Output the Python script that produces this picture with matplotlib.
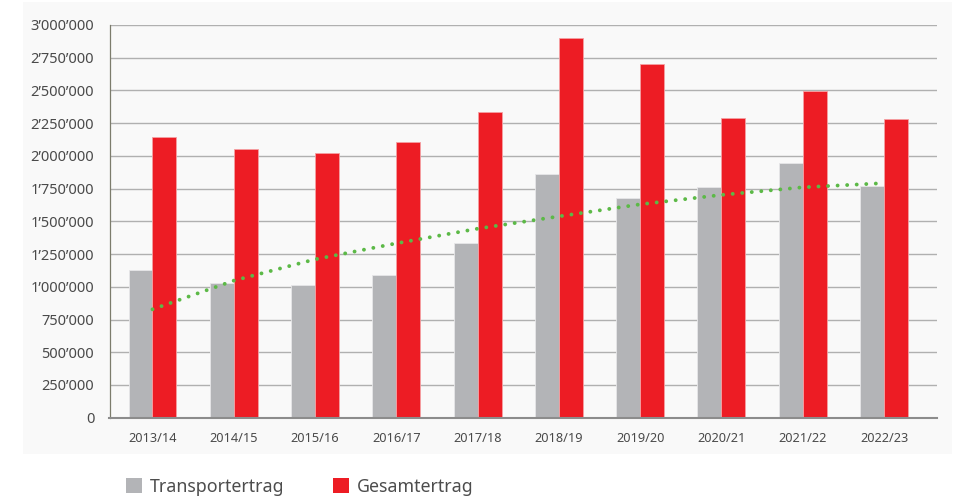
import matplotlib.pyplot as plt
from matplotlib.patches import Patch, Rectangle
import numpy as np

years = ['2013/14', '2014/15', '2015/16', '2016/17', '2017/18',
         '2018/19', '2019/20', '2020/21', '2021/22', '2022/23']
transportertrag = [1128000, 1027000, 1017000, 1093000, 1332000,
                   1859000, 1676000, 1760000, 1946000, 1770000]
gesamtertrag = [2147000, 2055000, 2019000, 2108000, 2335000,
                2900000, 2702000, 2290000, 2496000, 2284000]
# dotted trend at each group centre
trend = [828000, 1047000, 1210000, 1332000, 1444000,
         1538000, 1630000, 1702000, 1760000, 1792000]

y_ticks = list(range(0, 3000001, 250000))

plt.rcParams['font.family'] = ['Noto Sans', 'DejaVu Sans']

fig = plt.figure(figsize=(9.56, 4.98), dpi=100)
# light panel behind the chart
fig.patches.append(Rectangle((22.7 / 956, 1 - 454 / 498), 929 / 956, 452 / 498,
                             transform=fig.transFigure, facecolor='#f9f9f9',
                             edgecolor='none', zorder=-5))

ax = fig.add_axes([109.5 / 956, 1 - 417.7 / 498, (936.7 - 109.5) / 956, (417.7 - 25) / 498])
ax.set_facecolor('none')

x = np.arange(len(years))
w = 0.295
ax.bar(x - w / 2, transportertrag, w, color='#b3b4b7', edgecolor='#e6e6e8', linewidth=0.6, zorder=2)
ax.bar(x + w / 2, gesamtertrag, w, color='#ed1c24', edgecolor='#f5a0a3', linewidth=0.6, zorder=2)
ax.plot(x, trend, color='#5cb947', linewidth=2.8, linestyle=(0, (0.01, 2.45)),
        dash_capstyle='round', zorder=3)

ax.set_xlim(-0.529, 9.648)
ax.set_ylim(0, 3000000)
ax.set_yticks(y_ticks)
ax.set_yticklabels([format(v, ',').replace(',', '\u2019') for v in y_ticks])
ax.set_xticks(x)
ax.set_xticklabels(years)
ax.tick_params(axis='both', length=0, labelcolor='#4a4a4a')
ax.tick_params(axis='x', pad=10, labelsize=9.2)
ax.tick_params(axis='y', pad=11, labelsize=10.5)

ax.grid(axis='y', color='#b0b0b0', linewidth=1.0, zorder=1)
ax.set_axisbelow(True)
for s in ['top', 'right']:
    ax.spines[s].set_visible(False)
ax.spines['left'].set_color('#7c7c6c')
ax.spines['left'].set_linewidth(0.9)
ax.spines['bottom'].set_color('#8c8c8c')
ax.spines['bottom'].set_linewidth(1.5)

handles = [Patch(facecolor='#b3b4b7', label='Transportertrag'),
           Patch(facecolor='#ed1c24', label='Gesamtertrag')]
fig.legend(handles=handles, loc='center left', bbox_to_anchor=(126 / 956, 1 - 487 / 498),
           ncol=2, frameon=False, fontsize=12.8, handlelength=0.9, handleheight=0.9,
           handletextpad=0.45, columnspacing=2.7, borderpad=0, borderaxespad=0,
           labelcolor='#4d4d4d')

fig.savefig('out.png', dpi=100)
